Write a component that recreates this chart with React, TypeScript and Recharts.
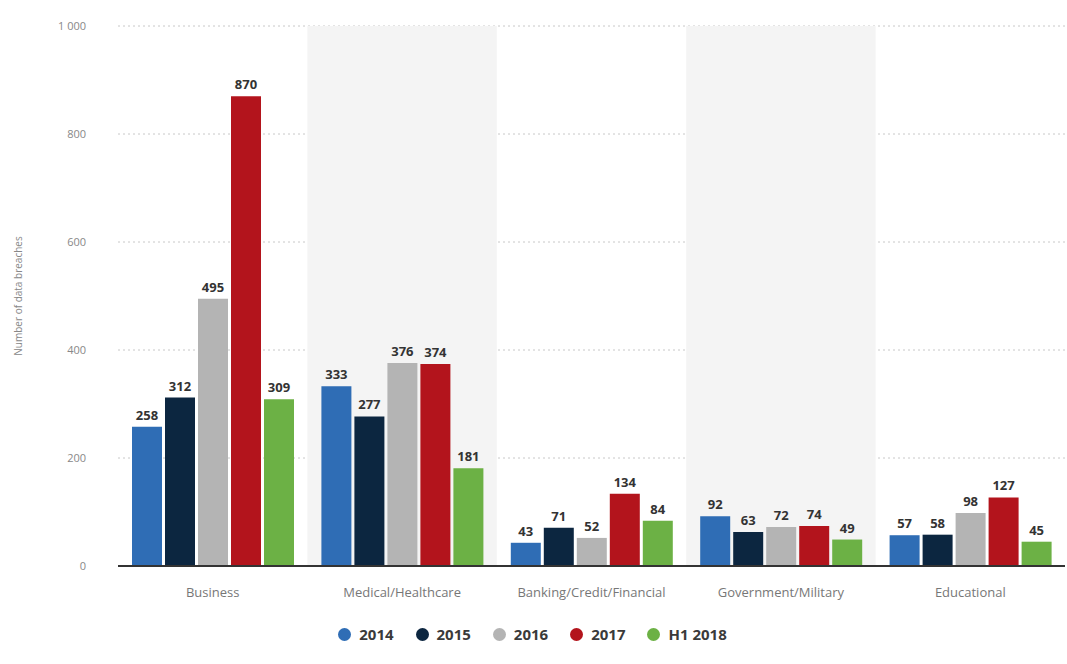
import { BarChart, Bar, XAxis, YAxis, CartesianGrid, Legend, LabelList, ReferenceArea, Label } from 'recharts'

const categories = ['Business', 'Medical/Healthcare', 'Banking/Credit/Financial', 'Government/Military', 'Educational']
const y2014 = [258, 333, 43, 92, 57]
const y2015 = [312, 277, 71, 63, 58]
const y2016 = [495, 376, 52, 72, 98]
const y2017 = [870, 374, 134, 74, 127]
const h12018 = [309, 181, 84, 49, 45]
const yTicks = [0, 200, 400, 600, 800, 1000]
const shaded = ['Medical/Healthcare', 'Government/Military']

const series = [
  { key: 'y2014', name: '2014', color: '#2f6db5' },
  { key: 'y2015', name: '2015', color: '#0c2640' },
  { key: 'y2016', name: '2016', color: '#b4b4b4' },
  { key: 'y2017', name: '2017', color: '#b3141c' },
  { key: 'h12018', name: 'H1 2018', color: '#6cb145' },
]

const data = categories.map((c, i) => ({
  name: c,
  y2014: y2014[i],
  y2015: y2015[i],
  y2016: y2016[i],
  y2017: y2017[i],
  h12018: h12018[i],
}))

const font = '"Open Sans", "Noto Sans", sans-serif'

function LegendContent() {
  return (
    <div style={{ display: 'flex', justifyContent: 'center', gap: 22, fontFamily: font, fontSize: 15, fontWeight: 700, color: '#3a3a3a', height: 20 }}>
      {series.map(s => (
        <div key={s.key} style={{ display: 'flex', alignItems: 'center', gap: 8 }}>
          <span style={{ width: 13, height: 13, borderRadius: '50%', background: s.color, display: 'inline-block' }} />
          <span>{s.name}</span>
        </div>
      ))}
    </div>
  )
}

export default function App() {
  return (
    <div style={{ width: 1067, height: 664, background: '#fff', position: 'relative' }}>
      <style>{`body{margin:0}`}</style>
      <BarChart
        width={1067}
        height={664}
        data={data}
        margin={{ top: 26, right: 2, left: 0, bottom: 48 }}
        barCategoryGap={14}
        barGap={3}
        style={{ fontFamily: font }}
      >
        {shaded.map(c => (
          <ReferenceArea key={c} x1={c} x2={c} y1={0} y2={1000} fill="#f4f4f4" fillOpacity={1} stroke="none" />
        ))}
        <CartesianGrid vertical={false} stroke="#c8c8c8" strokeDasharray="2 3" />
        <XAxis
          dataKey="name"
          interval={0}
          tickLine={false}
          axisLine={{ stroke: '#333', strokeWidth: 2 }}
          tick={{ fill: '#777', fontSize: 13 }}
          tickMargin={16}
        />
        <YAxis
          width={118}
          domain={[0, 1000]}
          ticks={yTicks}
          tickLine={false}
          axisLine={false}
          tick={{ fill: '#888', fontSize: 11 }}
          tickMargin={26}
          tickFormatter={(v: number) => (v >= 1000 ? '1 000' : String(v))}
        >
          <Label value="Number of data breaches" angle={-90} position="insideLeft" offset={18} style={{ fill: '#888', fontSize: 10, textAnchor: 'middle' }} />
        </YAxis>
        <Legend verticalAlign="bottom" content={<LegendContent />} wrapperStyle={{ bottom: 20 }} />
        {series.map(s => (
          <Bar key={s.key} dataKey={s.key} name={s.name} fill={s.color} isAnimationActive={false}>
            <LabelList dataKey={s.key} position="top" offset={7} style={{ fill: '#333', fontSize: 13, fontWeight: 700 }} />
          </Bar>
        ))}
      </BarChart>
    </div>
  )
}
